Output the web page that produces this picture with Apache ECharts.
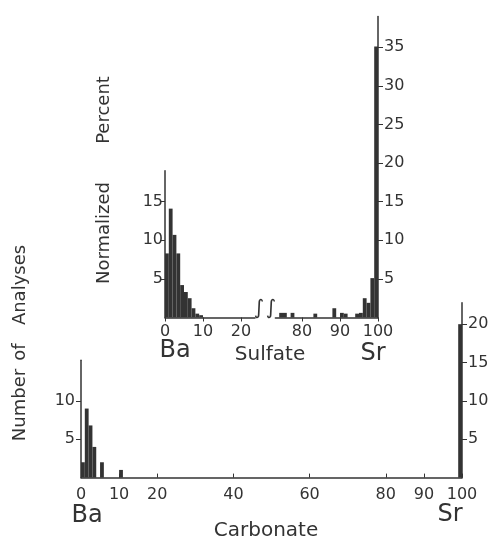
<!DOCTYPE html>
<html>
<head>
<meta charset="utf-8">
<script src="https://cdn.jsdelivr.net/npm/echarts@6/dist/echarts.min.js"></script>
<style>
  html, body { margin: 0; padding: 0; background: #fff; }
  #chart { width: 498px; height: 542px; }
</style>
</head>
<body>
<div id="chart"></div>
<script>
// bins are 1 unit wide, value = left edge of the bin
const sulfateBaBins = [0, 1, 2, 3, 4, 5, 6, 7, 8, 9];
const sulfateBaValues = [8.3, 14.1, 10.7, 8.3, 4.2, 3.3, 2.5, 1.2, 0.5, 0.3];
const sulfateSrBins = [74, 75, 77, 83, 88, 90, 91, 94, 95, 96, 97, 98, 99];
const sulfateSrValues = [0.6, 0.6, 0.6, 0.5, 1.2, 0.6, 0.5, 0.5, 0.6, 2.5, 1.9, 5.1, 35.1];
const carbonateBins = [0, 1, 2, 3, 5, 10, 99];
const carbonateValues = [2, 9, 6.8, 4, 2, 1, 20];

const sulfateLeftTicks = [0, 10, 20];
const sulfateRightTicks = [80, 90, 100];
const carbonateTicks = [0, 10, 20, 40, 60, 80, 90, 100];
const sulfateLeftY = [5, 10, 15];
const sulfateRightY = [5, 10, 15, 20, 25, 30, 35];
const carbonateLeftY = [5, 10];
const carbonateRightY = [5, 10, 15, 20];

const ink = '#333';
const font = 'DejaVu Sans';

const pairs = (xs, ys) => xs.map((x, i) => [x, ys[i]]);

function renderBin(params, api) {
  const a = api.coord([api.value(0), api.value(1)]);
  const b = api.coord([api.value(0) + 1, 0]);
  return {
    type: 'rect',
    shape: { x: a[0], y: a[1], width: b[0] - a[0], height: b[1] - a[1] },
    style: { fill: ink },
  };
}

function xAxisFor(gridIndex, min, max, ticks, show, inside) {
  return {
    type: 'value', gridIndex, min, max, show,
    splitLine: { show: false },
    axisLine: { onZero: false, lineStyle: { color: ink, width: 1.5 } },
    axisTick: { customValues: ticks, inside, length: 4, lineStyle: { color: ink } },
    axisLabel: { customValues: ticks, color: ink, fontFamily: font, fontSize: 16, margin: inside ? 9 : 6 },
  };
}

function yAxisFor(gridIndex, max, ticks, position, margin) {
  return {
    type: 'value', gridIndex, min: 0, max, position,
    splitLine: { show: false },
    axisLine: { show: true, onZero: false, lineStyle: { color: ink, width: 1.5 } },
    axisTick: { show: true, customValues: ticks, length: 5, lineStyle: { color: ink } },
    axisLabel: { customValues: ticks, color: ink, fontFamily: font, fontSize: 16, margin },
  };
}

const chart = echarts.init(document.getElementById('chart'), null, { width: 498, height: 542 });

const text = (x, y, str, size, rotation) => ({
  type: 'text', x, y, rotation: rotation || 0,
  style: { text: str, fill: ink, font: size + 'px "' + font + '"', align: 'center', verticalAlign: 'middle' },
});

chart.setOption({
  animation: false,
  grid: [
    { left: 165, top: 170.8, width: 90, height: 146.7, outerBoundsMode: 'none' },
    { left: 275.4, top: 16.4, width: 102.6, height: 301.1, outerBoundsMode: 'none' },
    { left: 81, top: 302.7, width: 381, height: 174.9, outerBoundsMode: 'none' },
    { left: 81, top: 360.2, width: 381, height: 117.4, outerBoundsMode: 'none' },
  ],
  xAxis: [
    xAxisFor(0, 0, 23.7, sulfateLeftTicks, true, false),
    xAxisFor(1, 73, 100, sulfateRightTicks, true, false),
    xAxisFor(2, 0, 100, carbonateTicks, true, true),
    xAxisFor(3, 0, 100, [], false, true),
  ],
  yAxis: [
    yAxisFor(0, 19, sulfateLeftY, 'left', 2),
    yAxisFor(1, 39, sulfateRightY, 'right', 6),
    yAxisFor(2, 22.8, carbonateRightY, 'right', 6),
    yAxisFor(3, 15.3, carbonateLeftY, 'left', 6),
  ],
  series: [
    { type: 'custom', xAxisIndex: 0, yAxisIndex: 0, renderItem: renderBin, data: pairs(sulfateBaBins, sulfateBaValues) },
    { type: 'custom', xAxisIndex: 1, yAxisIndex: 1, renderItem: renderBin, data: pairs(sulfateSrBins, sulfateSrValues) },
    { type: 'custom', xAxisIndex: 2, yAxisIndex: 2, renderItem: renderBin, data: pairs(carbonateBins, carbonateValues) },
  ],
  graphic: [
    text(104, 110, 'Percent', 18, Math.PI / 2),
    text(104, 233, 'Normalized', 18, Math.PI / 2),
    text(20, 285, 'Analyses', 18, Math.PI / 2),
    text(20, 352, 'of', 18, Math.PI / 2),
    text(20, 405, 'Number', 18, Math.PI / 2),
    text(175, 351, 'Ba', 24),
    text(270, 355, 'Sulfate', 20),
    text(373, 354, 'Sr', 24),
    text(87, 516, 'Ba', 24),
    text(266, 531, 'Carbonate', 20),
    text(450, 515, 'Sr', 24),
    { type: 'text', x: 259, y: 309, style: { text: '\u222B', fill: ink, font: 'italic 20px "' + font + '"', align: 'center', verticalAlign: 'middle' } },
    { type: 'text', x: 271, y: 309, style: { text: '\u222B', fill: ink, font: 'italic 20px "' + font + '"', align: 'center', verticalAlign: 'middle' } },
  ],
});
</script>
</body>
</html>
